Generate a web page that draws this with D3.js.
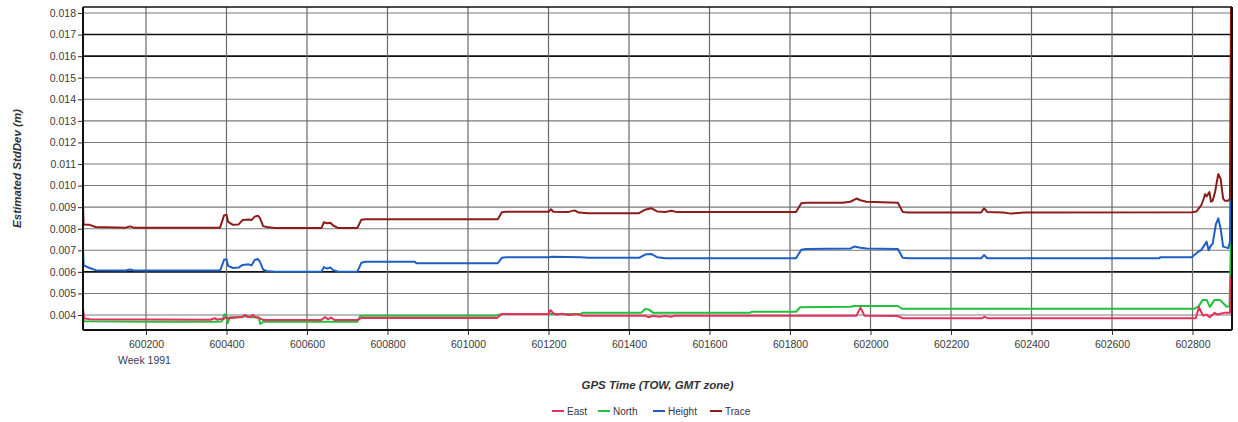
<!DOCTYPE html>
<html>
<head>
<meta charset="utf-8">
<script src="https://cdn.jsdelivr.net/npm/d3@7/dist/d3.min.js"></script>
<style>
  html, body { margin: 0; padding: 0; background: #fff; }
  svg { display: block; font-family: "Liberation Sans", Arial, sans-serif; }
</style>
</head>
<body>
<svg id="chart" width="1238" height="422"></svg>
<script>
// ---------- DATA ----------
const weekLabel = "Week 1991";
const xTicks = [600200, 600400, 600600, 600800, 601000, 601200, 601400, 601600, 601800, 602000, 602200, 602400, 602600, 602800];
const yTicks = [0.004, 0.005, 0.006, 0.007, 0.008, 0.009, 0.010, 0.011, 0.012, 0.013, 0.014, 0.015, 0.016, 0.017, 0.018];
const seriesNames = ["East", "North", "Height", "Trace"];

const eastData = [
  [600043, 0.0044], [600046, 0.00385], [600060, 0.0038], [600360, 0.00378], [600370, 0.00385],
  [600378, 0.00378], [600385, 0.00382], [600392, 0.0038], [600398, 0.0039], [600405, 0.00385],
  [600440, 0.00392], [600445, 0.0040], [600450, 0.00392], [600458, 0.0039], [600465, 0.0040],
  [600472, 0.0039], [600480, 0.00387], [600492, 0.00377], [600635, 0.00377], [600645, 0.0039],
  [600652, 0.0038], [600660, 0.00388], [600668, 0.00377], [600725, 0.00377], [600735, 0.00386],
  [601072, 0.00386], [601084, 0.00405], [601200, 0.00405], [601205, 0.00423], [601212, 0.00408],
  [601220, 0.00402], [601235, 0.00406], [601250, 0.0040], [601270, 0.00404], [601285, 0.00397],
  [601440, 0.00397], [601448, 0.0039], [601460, 0.00396], [601475, 0.00392], [601490, 0.00396],
  [601505, 0.00392], [601515, 0.00397], [601965, 0.00397], [601975, 0.00434], [601985, 0.00397],
  [602068, 0.00395], [602080, 0.00385], [602278, 0.00385], [602283, 0.00392], [602290, 0.00385],
  [602808, 0.00385], [602816, 0.00436], [602826, 0.00397], [602834, 0.00402], [602843, 0.0039],
  [602855, 0.0041], [602862, 0.00402], [602878, 0.0041], [602893, 0.0041], [602896, 0.0058]
];

const northData = [
  [600043, 0.0042], [600046, 0.00371], [600200, 0.00369], [600370, 0.00369], [600388, 0.0037],
  [600395, 0.00403], [600400, 0.00395], [600403, 0.00362], [600408, 0.0039], [600440, 0.0039],
  [600450, 0.00398], [600458, 0.0039], [600480, 0.0039], [600484, 0.00358], [600492, 0.00369],
  [600725, 0.00369], [600732, 0.00395], [600745, 0.00397], [601070, 0.00397], [601084, 0.00405],
  [601280, 0.00405], [601285, 0.0041], [601430, 0.0041], [601440, 0.00428], [601450, 0.00425],
  [601460, 0.0041], [601700, 0.0041], [601705, 0.00415], [601815, 0.00415], [601825, 0.00436],
  [601950, 0.00438], [601960, 0.00442], [602068, 0.00442], [602078, 0.00429], [602805, 0.00429],
  [602815, 0.0044], [602825, 0.0047], [602835, 0.0047], [602843, 0.00438], [602855, 0.0047],
  [602868, 0.0047], [602885, 0.00438], [602892, 0.0044], [602896, 0.0080]
];

const heightData = [
  [600043, 0.0073], [600045, 0.0063], [600060, 0.00618], [600075, 0.00608], [600150, 0.00606],
  [600160, 0.00611], [600170, 0.00606], [600384, 0.00606], [600394, 0.00656], [600400, 0.00658],
  [600404, 0.00628], [600416, 0.00618], [600430, 0.0062], [600440, 0.00632], [600455, 0.00635],
  [600462, 0.0063], [600470, 0.00655], [600478, 0.0066], [600483, 0.00648], [600491, 0.0061],
  [600500, 0.00604], [600520, 0.00601], [600636, 0.00601], [600642, 0.00622], [600650, 0.00615],
  [600658, 0.0062], [600665, 0.00608], [600678, 0.00601], [600725, 0.00601], [600735, 0.00642],
  [600745, 0.00647], [600868, 0.00647], [600872, 0.0064], [601074, 0.0064], [601084, 0.00665],
  [601095, 0.00668], [601200, 0.00668], [601210, 0.0067], [601280, 0.00668], [601300, 0.00665],
  [601425, 0.00665], [601440, 0.0068], [601455, 0.00683], [601470, 0.00668], [601490, 0.00663],
  [601815, 0.00663], [601828, 0.00703], [601840, 0.00706], [601950, 0.00708], [601960, 0.00718],
  [601975, 0.00712], [601990, 0.00708], [602068, 0.00706], [602080, 0.00665], [602095, 0.00663],
  [602275, 0.00663], [602282, 0.00678], [602290, 0.00663], [602718, 0.00663], [602720, 0.00668],
  [602798, 0.00668], [602812, 0.0069], [602822, 0.00702], [602830, 0.00725], [602835, 0.0074],
  [602840, 0.0070], [602845, 0.0072], [602850, 0.0073], [602858, 0.0082], [602864, 0.00848],
  [602870, 0.0080], [602876, 0.00717], [602889, 0.0071], [602893, 0.0074], [602896, 0.0140]
];

const traceData = [
  [600043, 0.0094], [600045, 0.0082], [600060, 0.00818], [600075, 0.00808], [600150, 0.00805],
  [600160, 0.00811], [600170, 0.00805], [600384, 0.00805], [600394, 0.00862], [600400, 0.00865],
  [600404, 0.00832], [600416, 0.00818], [600430, 0.0082], [600440, 0.0084], [600455, 0.00843],
  [600462, 0.0084], [600470, 0.00856], [600478, 0.0086], [600483, 0.0085], [600491, 0.00812],
  [600500, 0.00808], [600520, 0.00803], [600636, 0.00803], [600642, 0.0083], [600650, 0.00825],
  [600658, 0.00828], [600665, 0.00815], [600678, 0.00803], [600725, 0.00803], [600735, 0.00842],
  [600745, 0.00844], [601074, 0.00844], [601084, 0.00876], [601095, 0.00879], [601200, 0.00879],
  [601206, 0.0089], [601212, 0.00879], [601250, 0.00878], [601265, 0.00885], [601275, 0.00875],
  [601300, 0.00872], [601425, 0.00872], [601440, 0.00888], [601455, 0.00895], [601470, 0.0088],
  [601490, 0.00878], [601505, 0.00883], [601520, 0.00877], [601815, 0.00877], [601828, 0.00918],
  [601840, 0.0092], [601930, 0.0092], [601950, 0.00925], [601965, 0.0094], [601975, 0.00932],
  [601990, 0.00925], [602068, 0.0092], [602080, 0.00878], [602095, 0.00875], [602275, 0.00875],
  [602282, 0.00895], [602290, 0.00878], [602330, 0.00875], [602350, 0.0087], [602380, 0.00875],
  [602798, 0.00876], [602810, 0.0088], [602818, 0.0090], [602822, 0.0091], [602828, 0.0094],
  [602831, 0.0096], [602835, 0.0095], [602842, 0.0097], [602846, 0.00925], [602850, 0.0093],
  [602856, 0.0097], [602864, 0.01054], [602870, 0.0103], [602876, 0.0094], [602880, 0.0093],
  [602889, 0.0093], [602893, 0.0094], [602896, 0.0195]
];

// ---------- LAYOUT / STYLE ----------
const W = 1238, H = 422;
const plot = { left: 83, right: 1232, top: 7, bottom: 330 };
const colors = { East: "#e8305c", North: "#22c03c", Height: "#1f5ec2", Trace: "#8c1c1c" };
const darkGrid = [0.006, 0.016, 0.017];

const svg = d3.select("#chart");

const x = d3.scaleLinear().domain([600043.5, 602898.1]).range([plot.left, plot.right]);
const y = d3.scaleLinear().domain([0.003305, 0.018278]).range([plot.bottom, plot.top]);

// clip
svg.append("defs").append("clipPath").attr("id", "clip")
  .append("rect").attr("x", plot.left).attr("y", plot.top)
  .attr("width", plot.right - plot.left).attr("height", plot.bottom - plot.top);

// grid
const grid = svg.append("g");
grid.selectAll("line.hg").data(yTicks).join("line")
  .attr("x1", plot.left).attr("x2", plot.right)
  .attr("y1", d => y(d)).attr("y2", d => y(d))
  .attr("stroke", d => darkGrid.some(g => Math.abs(g - d) < 1e-9) ? "#111" : "#7a7a7a")
  .attr("stroke-width", d => darkGrid.some(g => Math.abs(g - d) < 1e-9) ? 1.6 : 1.1);
grid.selectAll("line.vg").data(xTicks).join("line")
  .attr("x1", d => x(d)).attr("x2", d => x(d))
  .attr("y1", plot.top).attr("y2", plot.bottom)
  .attr("stroke", "#6a6a6a").attr("stroke-width", 1.2);

// axes
const yAxis = d3.axisLeft(y).tickValues(yTicks).tickFormat(d3.format(".3f")).tickSize(5).tickPadding(2);
const gy = svg.append("g").attr("transform", `translate(${plot.left},0)`).call(yAxis);
gy.select(".domain").remove();
gy.selectAll("text").attr("font-size", 10.5).attr("fill", "#3a3a3a").attr("font-family", "Liberation Sans, Arial, sans-serif");
gy.selectAll("line").attr("stroke", "#333");

const xAxis = d3.axisBottom(x).tickValues(xTicks).tickFormat(d3.format("d")).tickSize(5).tickPadding(6);
const gx = svg.append("g").attr("transform", `translate(0,${plot.bottom})`).call(xAxis);
gx.select(".domain").remove();
gx.selectAll("text").attr("font-size", 10.5).attr("fill", "#3a3a3a").attr("font-family", "Liberation Sans, Arial, sans-serif");
gx.selectAll("line").attr("stroke", "#333");

svg.append("text").attr("x", x(xTicks[0]) - 28).attr("y", 364)
  .attr("font-size", 10.5).attr("fill", "#3a3a55").text(weekLabel);

// series
const line = d3.line().x(d => x(d[0])).y(d => y(d[1]));
const seriesData = { East: eastData, North: northData, Height: heightData, Trace: traceData };
const drawOrder = ["North", "East", "Height", "Trace"];
const lines = svg.append("g").attr("clip-path", "url(#clip)");
drawOrder.forEach(name => {
  lines.append("path").datum(seriesData[name])
    .attr("d", line).attr("fill", "none")
    .attr("stroke", colors[name]).attr("stroke-width", 2)
    .attr("stroke-linejoin", "round");
});

// frame
svg.append("line").attr("x1", plot.left).attr("x2", plot.right).attr("y1", plot.top).attr("y2", plot.top)
  .attr("stroke", "#111").attr("stroke-width", 1.5);
svg.append("line").attr("x1", plot.left).attr("x2", plot.right).attr("y1", plot.bottom).attr("y2", plot.bottom)
  .attr("stroke", "#111").attr("stroke-width", 2);
svg.append("line").attr("x1", plot.left).attr("x2", plot.left).attr("y1", plot.top).attr("y2", plot.bottom)
  .attr("stroke", "#111").attr("stroke-width", 2);
svg.append("line").attr("x1", plot.right).attr("x2", plot.right).attr("y1", plot.top).attr("y2", plot.bottom)
  .attr("stroke", "#111").attr("stroke-width", 2);

// titles
svg.append("text").attr("x", (plot.left + plot.right) / 2).attr("y", 389)
  .attr("text-anchor", "middle").attr("font-size", 11.5).attr("font-weight", "bold")
  .attr("font-style", "italic").attr("fill", "#333").text("GPS Time (TOW, GMT zone)");
svg.append("text").attr("transform", `translate(21,${(plot.top + plot.bottom) / 2}) rotate(-90)`)
  .attr("text-anchor", "middle").attr("font-size", 11.5).attr("font-weight", "bold")
  .attr("font-style", "italic").attr("fill", "#333").text("Estimated StdDev (m)");

// legend
const legendX = [552, 598, 653, 710];
const legend = svg.append("g");
seriesNames.forEach((name, i) => {
  const g = legend.append("g").attr("transform", `translate(${legendX[i]},411)`);
  g.append("line").attr("x1", 0).attr("x2", 12).attr("y1", 0).attr("y2", 0)
    .attr("stroke", colors[name]).attr("stroke-width", 2);
  g.append("text").attr("x", 15).attr("y", 3.5).attr("font-size", 10)
    .attr("fill", "#333348").text(name);
});
</script>
</body>
</html>
